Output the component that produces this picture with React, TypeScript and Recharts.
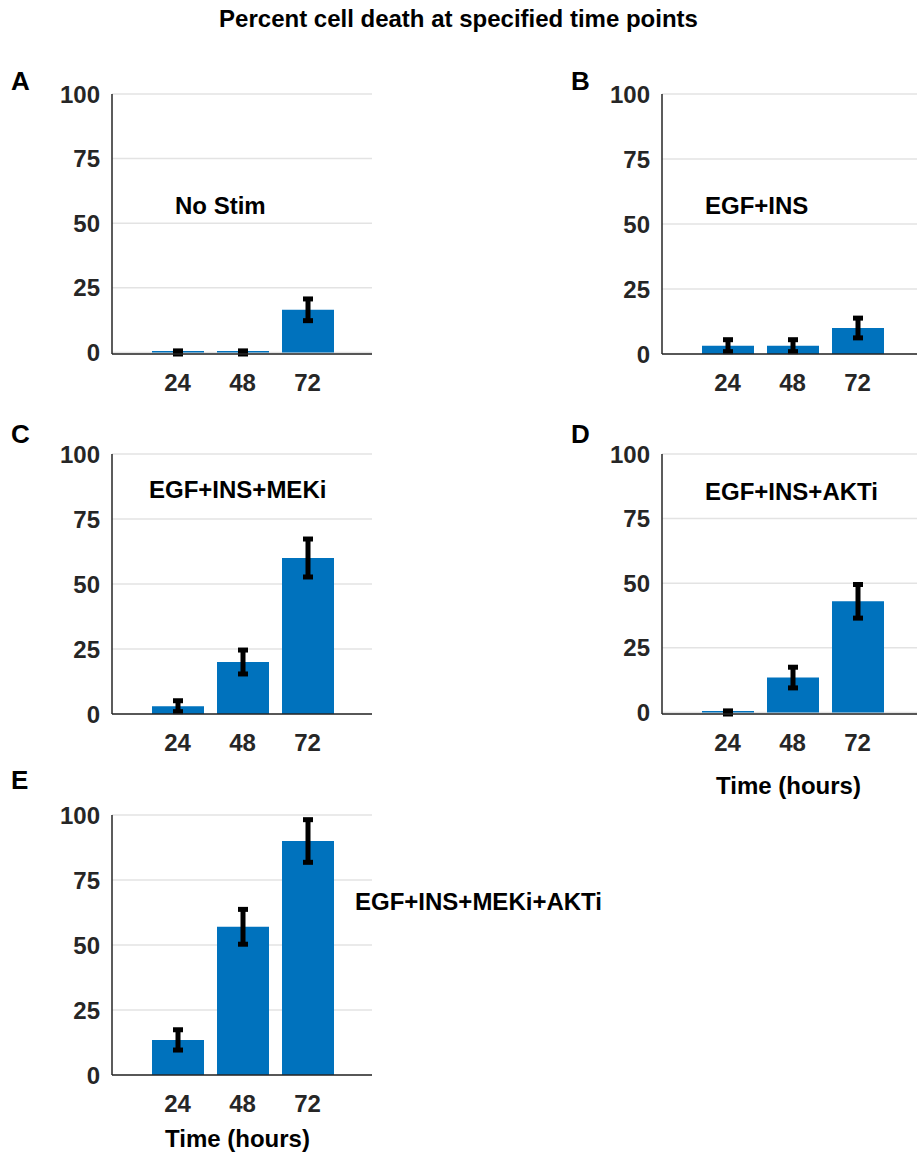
import {Bar, BarChart, CartesianGrid, ErrorBar, XAxis, YAxis} from 'recharts';

const hours = ['24', '48', '72'];
const yTicks = [0, 25, 50, 75, 100];

const noStim = [0, 0, 16.5];
const noStimErr = [0.6, 0.6, 4.2];
const egfIns = [3.2, 3.2, 10];
const egfInsErr = [2.3, 2.3, 3.8];
const egfInsMek = [3, 20, 60];
const egfInsMekErr = [2.1, 4.6, 7.3];
const egfInsAkt = [0, 13.5, 43];
const egfInsAktErr = [0.6, 4, 6.5];
const egfInsMekAkt = [13.5, 57, 90];
const egfInsMekAktErr = [3.9, 6.7, 8.2];

const FONT = '"Liberation Sans", Arial, sans-serif';
const BLUE = '#0072BD';
const AXIS = '#262626';

const toRows = (values: number[], errs: number[]) =>
    hours.map((h, i) => ({hour: h, value: values[i], err: errs[i]}));

interface PanelProps {
    values: number[];
    errs: number[];
    plotX: number;
    plotY: number;
}

// plot area is 260 x 260, (plotX, plotY) = top-left corner of the plot
const Panel = ({values, errs, plotX, plotY}: PanelProps) => {
    const data = toRows(values, errs);
    return (
        <div style={{position: 'absolute', left: plotX - 112, top: plotY - 40}}>
            <BarChart
                width={412}
                height={350}
                data={data}
                margin={{top: 40, right: 40, left: 52, bottom: 10}}
            >
                <CartesianGrid vertical={false} stroke="#e3e3e3" strokeWidth={1.5}/>
                <XAxis
                    dataKey="hour"
                    padding={{left: 33, right: 32}}
                    height={40}
                    axisLine={{stroke: AXIS, strokeWidth: 1.5}}
                    tickLine={false}
                    tickSize={8}
                    tickMargin={12}
                    tick={{fill: AXIS, fontSize: 24, fontWeight: 'bold', fontFamily: FONT}}
                />
                <YAxis
                    domain={[0, 100]}
                    ticks={yTicks}
                    width={60}
                    axisLine={{stroke: AXIS, strokeWidth: 1.5}}
                    tickLine={false}
                    tickSize={6}
                    tickMargin={6}
                    tick={{fill: AXIS, fontSize: 24, fontWeight: 'bold', fontFamily: FONT}}
                />
                <Bar dataKey="value" fill={BLUE} barSize={52} minPointSize={1.5} isAnimationActive={false}>
                    <ErrorBar dataKey="err" direction="y" width={5} strokeWidth={5} stroke="#000"/>
                </Bar>
            </BarChart>
        </div>
    );
};

const Txt = ({x, y, size = 24, color = '#000', children}: any) => (
    <div style={{
        position: 'absolute', left: x, top: y, fontFamily: FONT, fontWeight: 'bold',
        fontSize: size, color, lineHeight: 1, whiteSpace: 'nowrap'
    }}>
        {children}
    </div>
);

const App = () => (
    <div style={{position: 'absolute', left: 0, top: 0, width: 917, height: 1154, overflow: 'hidden', background: '#fff'}}>
        <div style={{
            position: 'absolute', left: 0, top: 7, width: 917, textAlign: 'center',
            fontFamily: FONT, fontWeight: 'bold', fontSize: 24, lineHeight: 1
        }}>
            Percent cell death at specified time points
        </div>

        <Panel values={noStim} errs={noStimErr} plotX={112} plotY={94}/>
        <Panel values={egfIns} errs={egfInsErr} plotX={662} plotY={94}/>
        <Panel values={egfInsMek} errs={egfInsMekErr} plotX={112} plotY={454}/>
        <Panel values={egfInsAkt} errs={egfInsAktErr} plotX={662} plotY={454}/>
        <Panel values={egfInsMekAkt} errs={egfInsMekAktErr} plotX={112} plotY={815}/>

        <Txt x={11} y={68} size={26}>A</Txt>
        <Txt x={571} y={68} size={26}>B</Txt>
        <Txt x={11} y={421} size={26}>C</Txt>
        <Txt x={571} y={421} size={26}>D</Txt>
        <Txt x={11} y={767} size={26}>E</Txt>

        <Txt x={175} y={194}>No Stim</Txt>
        <Txt x={705} y={194}>EGF+INS</Txt>
        <Txt x={149} y={478}>EGF+INS+MEKi</Txt>
        <Txt x={705} y={480}>EGF+INS+AKTi</Txt>
        <Txt x={355} y={890}>EGF+INS+MEKi+AKTi</Txt>

        <Txt x={716} y={774}>Time (hours)</Txt>
        <Txt x={165} y={1127}>Time (hours)</Txt>
    </div>
);

export default App;
